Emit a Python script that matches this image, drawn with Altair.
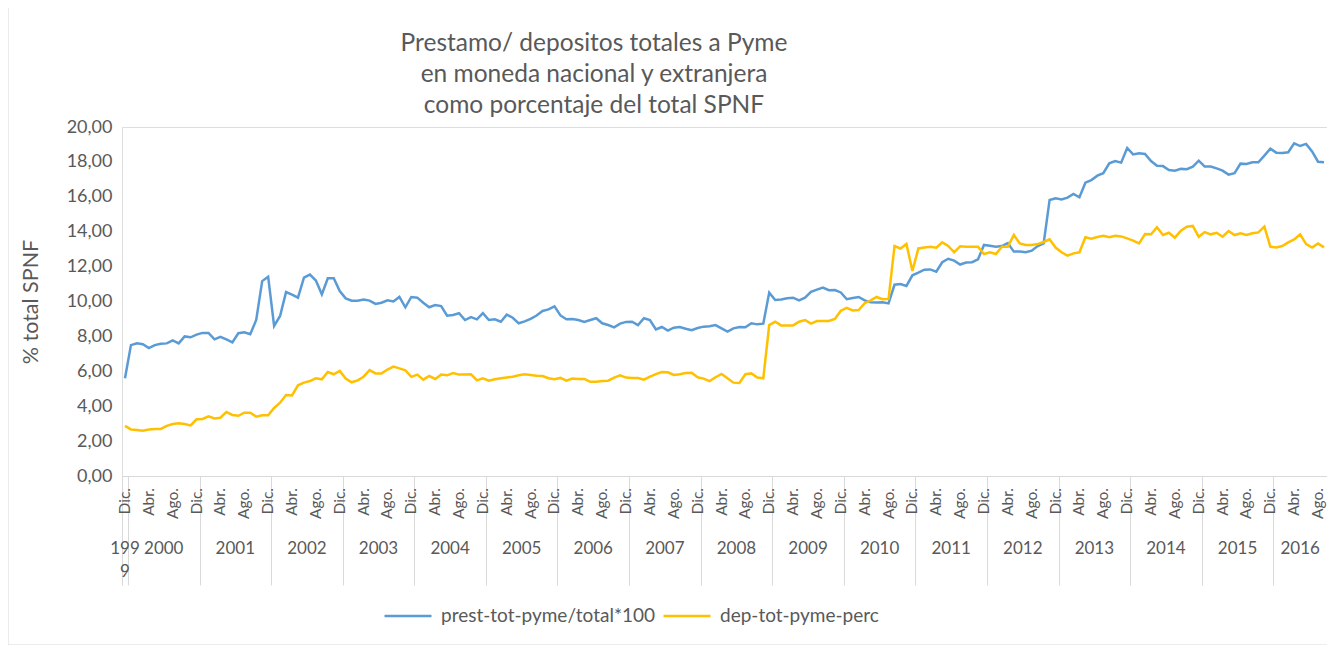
import altair as alt
import pandas as pd

# ---- data (monthly, Dic. 1999 .. Sep. 2016) ----
prest = [
    5.6, 7.5, 7.6, 7.55, 7.33, 7.5, 7.58, 7.6, 7.77, 7.6, 8.0, 7.95, 8.1, 8.2, 8.2, 7.83, 7.98, 7.83, 7.66, 8.18,
    8.23, 8.12, 8.94, 11.17, 11.42, 8.6, 9.17, 10.54, 10.4, 10.22, 11.37, 11.54, 11.2, 10.41, 11.33, 11.33, 10.6, 10.18, 10.05, 10.05,
    10.12, 10.05, 9.86, 9.93, 10.07, 10.0, 10.26, 9.67, 10.26, 10.22, 9.93, 9.67, 9.8, 9.74, 9.19, 9.23, 9.33, 8.94, 9.11, 8.98,
    9.33, 8.94, 8.98, 8.84, 9.25, 9.07, 8.75, 8.86, 9.0, 9.2, 9.46, 9.55, 9.72, 9.2, 8.98, 9.0, 8.94, 8.83, 8.94, 9.04,
    8.75, 8.65, 8.52, 8.73, 8.83, 8.84, 8.65, 9.04, 8.94, 8.4, 8.54, 8.33, 8.5, 8.54, 8.44, 8.35, 8.48, 8.56, 8.58, 8.65,
    8.46, 8.27, 8.46, 8.54, 8.52, 8.75, 8.69, 8.73, 10.51, 10.09, 10.11, 10.18, 10.22, 10.07, 10.22, 10.55, 10.68, 10.8, 10.65, 10.66,
    10.52, 10.13, 10.2, 10.26, 10.06, 9.96, 9.94, 9.96, 9.89, 10.96, 11.0, 10.89, 11.5, 11.65, 11.82, 11.84, 11.71, 12.25, 12.45, 12.34,
    12.12, 12.23, 12.25, 12.42, 13.24, 13.2, 13.14, 13.18, 13.35, 12.86, 12.86, 12.82, 12.91, 13.18, 13.33, 15.82, 15.91, 15.85, 15.95, 16.16,
    15.97, 16.81, 16.96, 17.21, 17.35, 17.92, 18.05, 17.96, 18.8, 18.43, 18.49, 18.45, 18.05, 17.78, 17.76, 17.54, 17.5, 17.6, 17.58, 17.73,
    18.07, 17.73, 17.73, 17.63, 17.5, 17.27, 17.35, 17.9, 17.88, 17.98, 17.98, 18.36, 18.76, 18.53, 18.51, 18.55, 19.06, 18.91, 19.03, 18.6,
    18.01, 17.98,
]
dep = [
    2.87, 2.67, 2.64, 2.6, 2.67, 2.7, 2.7, 2.87, 2.98, 3.02, 2.98, 2.9, 3.25, 3.27, 3.42, 3.3, 3.34, 3.67, 3.5, 3.45,
    3.63, 3.63, 3.4, 3.48, 3.48, 3.9, 4.2, 4.64, 4.62, 5.2, 5.35, 5.44, 5.6, 5.54, 5.96, 5.83, 6.02, 5.59, 5.37, 5.48,
    5.69, 6.07, 5.88, 5.88, 6.1, 6.27, 6.17, 6.06, 5.68, 5.81, 5.52, 5.73, 5.56, 5.81, 5.77, 5.9, 5.81, 5.81, 5.83, 5.48,
    5.6, 5.46, 5.54, 5.6, 5.65, 5.69, 5.77, 5.83, 5.79, 5.75, 5.73, 5.6, 5.54, 5.62, 5.46, 5.58, 5.56, 5.56, 5.4, 5.4,
    5.44, 5.46, 5.64, 5.77, 5.64, 5.62, 5.62, 5.52, 5.69, 5.84, 5.96, 5.94, 5.79, 5.83, 5.9, 5.92, 5.66, 5.58, 5.44, 5.66,
    5.85, 5.6, 5.35, 5.33, 5.83, 5.88, 5.64, 5.6, 8.65, 8.84, 8.63, 8.63, 8.63, 8.84, 8.94, 8.73, 8.88, 8.88, 8.88, 9.0,
    9.47, 9.64, 9.49, 9.51, 9.9, 10.07, 10.26, 10.13, 10.15, 13.18, 13.04, 13.3, 11.75, 13.04, 13.1, 13.14, 13.08, 13.39, 13.18, 12.82,
    13.16, 13.14, 13.14, 13.14, 12.72, 12.82, 12.72, 13.14, 13.14, 13.81, 13.33, 13.24, 13.24, 13.29, 13.41, 13.56, 13.09, 12.82, 12.63, 12.76,
    12.82, 13.68, 13.6, 13.7, 13.77, 13.68, 13.77, 13.73, 13.62, 13.49, 13.33, 13.87, 13.85, 14.25, 13.81, 13.94, 13.66, 14.06, 14.29, 14.33,
    13.71, 13.98, 13.85, 13.94, 13.71, 14.04, 13.81, 13.91, 13.81, 13.91, 13.96, 14.29, 13.14, 13.1, 13.18, 13.39, 13.56, 13.85, 13.29, 13.09,
    13.33, 13.1,
]
series_names = ["prest-tot-pyme/total*100", "dep-tot-pyme-perc"]
series_colors = ["#5B9BD5", "#FFC000"]

month_names = ["Ene.", "Feb.", "Mar.", "Abr.", "May.", "Jun.", "Jul.", "Ago.", "Sep.", "Oct.", "Nov.", "Dic."]
n = len(prest)
# category index 0 = Dic. 1999
month_label_idx = list(range(0, n, 4))
month_label_txt = [month_names[(11 + i) % 12] for i in month_label_idx]

year_labels = ["199\n9"] + [str(y) for y in range(2000, 2017)]
year_centers = [0] + [1 + 12 * k + 5.5 for k in range(16)] + [(193 + n - 1) / 2]
year_bounds = [-0.5] + [0.5 + 12 * k for k in range(17)] + [n - 0.5]

y_ticks = [0, 2, 4, 6, 8, 10, 12, 14, 16, 18, 20]

title_text = "Prestamo/ depositos totales a Pyme\nen moneda nacional y extranjera\ncomo porcentaje del total SPNF"

FONT = "Lato"
GREY = "#595959"
LINEGREY = "#d9d9d9"

df = pd.DataFrame({
    "idx": list(range(n)) * 2,
    "value": prest + dep,
    "series": [series_names[0]] * n + [series_names[1]] * n,
})
mdf = pd.DataFrame({"idx": month_label_idx, "txt": month_label_txt})
ydf = pd.DataFrame({"idx": year_centers, "txt": year_labels})

W, H = 1205, 349
xscale = alt.Scale(domain=[-0.5, n - 0.5], nice=False, zero=False)

lines = alt.Chart(df).mark_line(strokeWidth=2.5).encode(
    x=alt.X("idx:Q", scale=xscale,
            axis=alt.Axis(values=year_bounds, labels=False, ticks=True, tickSize=109,
                          tickColor=LINEGREY, domainColor=LINEGREY, grid=False, title=None)),
    y=alt.Y("value:Q", scale=alt.Scale(domain=[0, 20], nice=False),
            axis=alt.Axis(values=y_ticks, labelExpr="replace(format(datum.value, '.2f'), '.', ',')",
                          labelFontSize=18, labelColor=GREY, labelFont=FONT, labelPadding=10,
                          ticks=False, domain=False, grid=False, title="% total SPNF",
                          titleFontSize=21.5, titleFont=FONT, titleFontWeight="normal",
                          titleColor=GREY, titlePadding=24)),
    color=alt.Color("series:N", sort=series_names,
                    scale=alt.Scale(domain=series_names, range=series_colors),
                    legend=alt.Legend(title=None, orient="none", legendX=261, legendY=464,
                                      direction="horizontal", symbolType="stroke",
                                      symbolStrokeWidth=2.5, symbolSize=2209,
                                      labelFontSize=19, labelFont=FONT, labelColor=GREY,
                                      labelOffset=8, columnPadding=2, labelLimit=0)),
    order="idx:Q",
)

mlabels = alt.Chart(mdf).mark_text(angle=270, align="right", baseline="middle",
                                   fontSize=15.5, font=FONT, color=GREY).encode(
    x=alt.X("idx:Q", scale=xscale), y=alt.value(H + 12), text="txt:N")

ylabels = alt.Chart(ydf).mark_text(align="center", baseline="middle", fontSize=17,
                                   font=FONT, color=GREY, lineBreak="\n", lineHeight=23).encode(
    x=alt.X("idx:Q", scale=xscale), y=alt.value(H + 73), text="txt:N")

title = alt.Chart(pd.DataFrame({"t": [title_text]})).mark_text(
    align="center", baseline="top", fontSize=24.5, font=FONT, color=GREY,
    lineBreak="\n", lineHeight=31).encode(
    x=alt.value(472), y=alt.value(-95), text="t:N")

border = alt.Chart(pd.DataFrame({"a": [0]})).mark_rect(fill=None, stroke=LINEGREY, strokeWidth=1).encode(
    x=alt.value(-114), x2=alt.value(1208), y=alt.value(-125), y2=alt.value(518))

chart = alt.layer(border, title, lines, mlabels, ylabels).properties(
    width=W, height=H,
    padding={"left": 114, "top": 119, "right": 0, "bottom": 169},
    autosize=alt.AutoSizeParams(type="none"),
).configure_view(stroke=None).configure(background="white")

chart.save("out.html", embed_options={"renderer": "svg", "actions": False})
